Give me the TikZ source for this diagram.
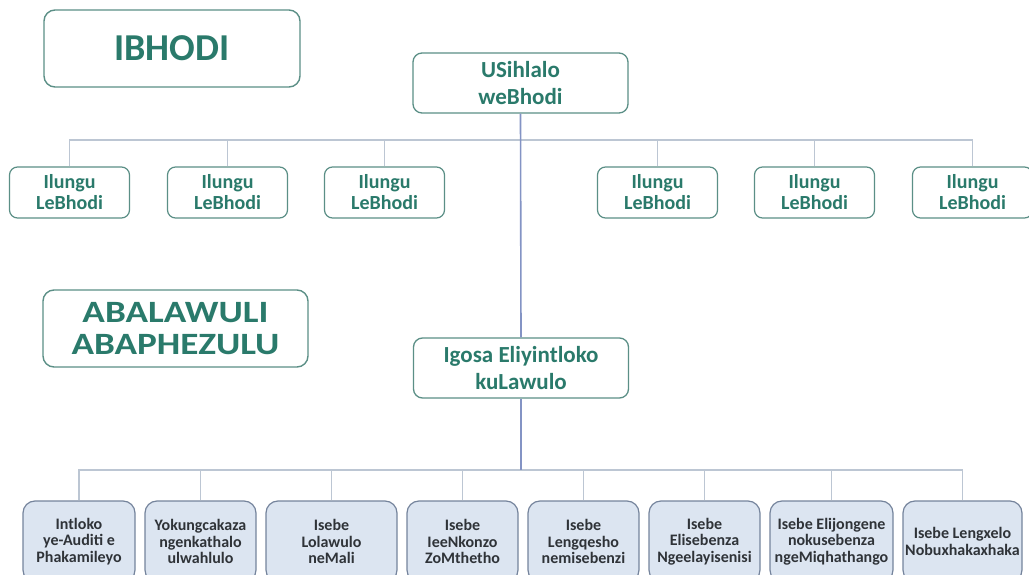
\documentclass[tikz,border=0pt]{standalone}
\usepackage{fontspec}
\setmainfont{Carlito}
\newfontfamily\widefont[FakeStretch=1.2]{Carlito}
\usepackage{xcolor}
\usepackage{tikz}
\usetikzlibrary{positioning}
\definecolor{teal}{HTML}{2A7A6B}
\definecolor{tealline}{HTML}{5B8F86}
\definecolor{lightblue}{HTML}{DCE5F1}
\definecolor{deptline}{HTML}{75849C}
\definecolor{depttext}{HTML}{2F3338}
\definecolor{linegrey}{HTML}{BCC6D3}
\definecolor{trunkblue}{HTML}{8393C4}
\tikzset{
  titlebox/.style={
    rounded corners=11pt,draw=tealline,fill=white,
    line width=1.4pt,inner sep=0pt,align=center,text=teal,
    font=\bfseries\fontsize{38}{30}\selectfont
  },
  headbox/.style={
    rounded corners=9pt,draw=tealline,fill=white,
    line width=1.3pt,inner sep=0pt,align=center,text=teal,
    minimum width=215pt,minimum height=60pt,
    font=\bfseries\fontsize{23}{27}\selectfont
  },
  memberbox/.style={
    rounded corners=8pt,draw=tealline,fill=white,
    line width=1.2pt,inner sep=0pt,align=center,text=teal,
    minimum width=120pt,minimum height=51pt,
    font=\bfseries\fontsize{20}{21}\selectfont
  },
  deptbox/.style={
    rounded corners=12pt,draw=deptline,fill=lightblue,
    line width=1.2pt,inner sep=0pt,align=center,text=depttext,
    minimum height=81pt,
    font=\bfseries\fontsize{16}{16.5}\selectfont
  },
  link/.style={draw=linegrey,line width=1.2pt},
  trunk/.style={draw=trunkblue,line width=1.6pt}
}
\begin{document}
\begin{tikzpicture}[x=1pt,y=1pt,node distance=8.8pt]
\clip (0,0) rectangle (1029,-575);
\useasboundingbox (0,0) rectangle (1029,-575);
% left-hand titles
\node[titlebox,minimum width=256pt,minimum height=77pt] (board) at (172,-48.5) {IBHODI};
\node[titlebox,minimum width=265pt,minimum height=77pt,
  font=\widefont\bfseries\fontsize{31}{32}\selectfont] (mgmt) at (175.5,-328.5)
{ABALAWULI\\ABAPHEZULU};
% chair and board members
\node[headbox] (chair) at (520.5,-83) {USihlalo\\weBhodi};
\node[memberbox] (m1) at (69.5,-192.5) {Ilungu\\LeBhodi};
\node[memberbox,right=36.8pt of m1] (m2) {Ilungu\\LeBhodi};
\node[memberbox,right=35.8pt of m2] (m3) {Ilungu\\LeBhodi};
\node[memberbox,right=151.8pt of m3] (m4) {Ilungu\\LeBhodi};
\node[memberbox,right=35.8pt of m4] (m5) {Ilungu\\LeBhodi};
\node[memberbox,right=36.8pt of m5] (m6) {Ilungu\\LeBhodi};
% executive and departments
\node[headbox] (ceo) at (521,-368) {Igosa Eliyintloko\\kuLawulo};
\node[deptbox,minimum width=112pt] (d1) at (79,-541.5)
{Intloko\\ye-Auditi e\\Phakamileyo};
\node[deptbox,minimum width=111pt,right=of d1] (d2)
{Yokungcakaza\\ngenkathalo\\ulwahlulo};
\node[deptbox,minimum width=131pt,right=of d2] (d3)
{Isebe\\Lolawulo\\neMali};
\node[deptbox,minimum width=111pt,right=of d3] (d4)
{Isebe\\IeeNkonzo\\ZoMthetho};
\node[deptbox,minimum width=111pt,right=of d4] (d5)
{Isebe\\Lengqesho\\nemisebenzi};
\node[deptbox,minimum width=111pt,right=of d5] (d6)
{Isebe\\Elisebenza\\Ngeelayisenisi};
\node[deptbox,minimum width=123pt,right=of d6] (d7)
{Isebe Elijongene\\nokusebenza\\ngeMiqhathango};
\node[deptbox,minimum width=119pt,right=of d7] (d8)
{Isebe Lengxelo\\Nobuxhakaxhaka};
% connectors
\coordinate (bus1) at (chair.south |- 0,-140);
\coordinate (bus2) at (ceo.south |- 0,-470);
\foreach \i in {1,...,6}
  \draw[link] (m\i.north) |- (bus1);
\foreach \i in {1,...,8}
  \draw[link] (d\i.north) |- (bus2);
\draw[trunk] (chair.south) -- (ceo.north);
\draw[trunk] (ceo.south) -- (bus2);
\end{tikzpicture}
\end{document}
